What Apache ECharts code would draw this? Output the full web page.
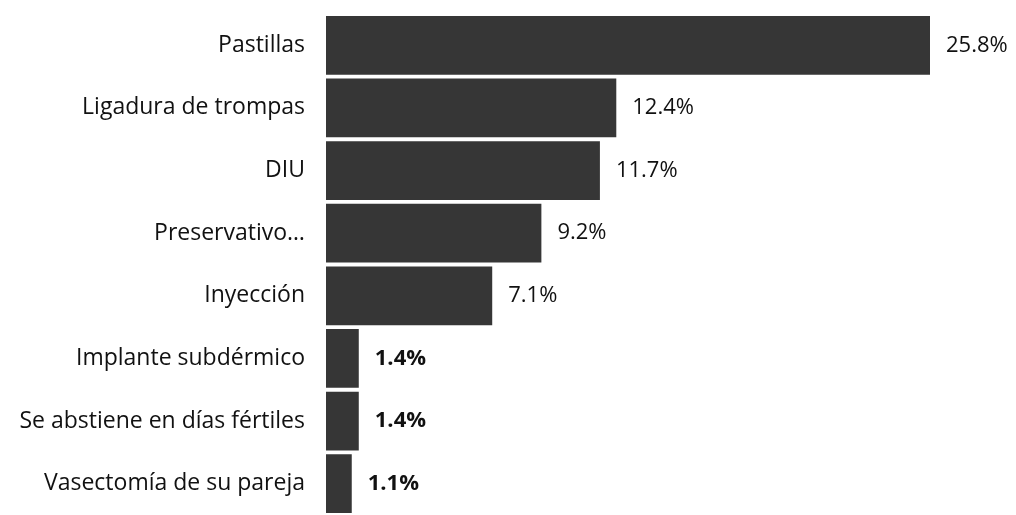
<!DOCTYPE html>
<html>
<head>
<meta charset="utf-8">
<script src="https://cdn.jsdelivr.net/npm/echarts@6/dist/echarts.min.js"></script>
<style>
  html, body { margin: 0; padding: 0; background: #fff; }
  #chart { width: 1016px; height: 515px; }
</style>
</head>
<body>
<div id="chart"></div>
<script>
// categories listed bottom to top (ECharts draws the first one at the bottom)
var metodos = ['Vasectomía de su pareja', 'Se abstiene en días fértiles', 'Implante subdérmico',
               'Inyección', 'Preservativo…', 'DIU', 'Ligadura de trompas', 'Pastillas'];
var porcentajes = [1.1, 1.4, 1.4, 7.1, 9.2, 11.7, 12.4, 25.8];
var negrita = [true, true, true, false, false, false, false, false];

var chart = echarts.init(document.getElementById('chart'));

var option = {
    backgroundColor: '#ffffff',
    animation: false,
    grid: {
        left: 326,
        top: 14,
        width: 604,
        height: 507
    },
    xAxis: {
        type: 'value',
        min: 0,
        max: 25.8,
        show: false
    },
    yAxis: {
        type: 'category',
        data: metodos,
        axisLine: { show: false },
        axisTick: { show: false },
        axisLabel: {
            margin: 21,
            fontFamily: 'Open Sans',
            fontSize: 23,
            color: '#111'
        }
    },
    series: [{
        type: 'bar',
        barCategoryGap: '6%',
        data: porcentajes.map(function (v, i) {
            return {
                value: v,
                label: { fontWeight: negrita[i] ? 'bold' : 'normal' }
            };
        }),
        itemStyle: { color: '#363636' },
        label: {
            show: true,
            position: 'right',
            distance: 16,
            fontFamily: 'Open Sans',
            fontSize: 22,
            color: '#111',
            formatter: function (p) { return p.value.toFixed(1) + '%'; }
        }
    }]
};

chart.setOption(option);
</script>
</body>
</html>
